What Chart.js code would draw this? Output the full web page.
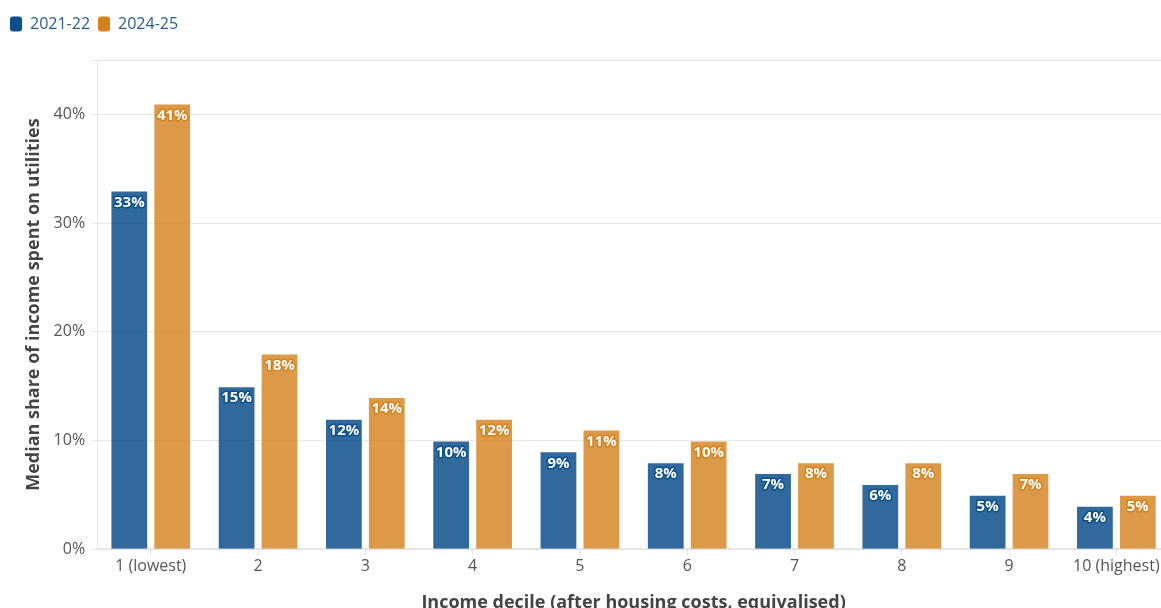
<!DOCTYPE html>
<html>
<head>
<meta charset="utf-8">
<script src="https://cdn.jsdelivr.net/npm/chart.js@4.4.1/dist/chart.umd.min.js"></script>
<style>
  html, body { margin: 0; padding: 0; background: #fff; overflow: hidden; }
  #caja { width: 1170px; height: 614px; position: relative; }
</style>
</head>
<body>
<div id="caja"><canvas id="grafica"></canvas></div>
<script>
// deciles de ingreso y mediana del gasto en suministros (%)
var deciles = ["1 (lowest)", "2", "3", "4", "5", "6", "7", "8", "9", "10 (highest)"];
var serie2122 = [33, 15, 12, 10, 9, 8, 7, 6, 5, 4];
var serie2425 = [41, 18, 14, 12, 11, 10, 8, 8, 7, 5];
var etiquetas = ["2021-22", "2024-25"];

var colorAzul = "#0d4f8b";
var colorNaranja = "#d4821e";

// etiquetas blancas con contorno dentro de cada barra
var etiquetasBarras = {
    id: "etiquetasBarras",
    afterDatasetsDraw: function(chart) {
        var ctx = chart.ctx;
        ctx.save();
        ctx.font = "bold 15px 'Open Sans'";
        ctx.textAlign = "center";
        ctx.textBaseline = "middle";
        ctx.lineJoin = "round";
        chart.data.datasets.forEach(function(ds, i) {
            var meta = chart.getDatasetMeta(i);
            meta.data.forEach(function(bar, j) {
                var texto = ds.data[j] + "%";
                var y = bar.y + 12;
                ctx.lineWidth = 3;
                ctx.strokeStyle = ds.contorno;
                ctx.strokeText(texto, bar.x, y);
                ctx.fillStyle = "#fff";
                ctx.fillText(texto, bar.x, y);
            });
        });
        ctx.restore();
    }
};

// deja más aire debajo de la leyenda
var espacioLeyenda = {
    id: "espacioLeyenda",
    beforeInit: function(chart) {
        var fitOriginal = chart.legend.fit;
        chart.legend.fit = function() {
            fitOriginal.bind(chart.legend)();
            this.height += 18;
        };
    }
};

var ctx = document.getElementById("grafica").getContext("2d");
new Chart(ctx, {
    type: "bar",
    data: {
        labels: deciles,
        datasets: [
            { label: etiquetas[0], data: serie2122, backgroundColor: "rgba(13, 79, 139, 0.85)",
              borderColor: "rgba(255,255,255,0.6)", borderWidth: 1, contorno: colorAzul, solido: colorAzul,
              categoryPercentage: 0.8, barPercentage: 0.88 },
            { label: etiquetas[1], data: serie2425, backgroundColor: "rgba(212, 130, 30, 0.82)",
              borderColor: "rgba(255,255,255,0.6)", borderWidth: 1, contorno: colorNaranja, solido: colorNaranja,
              categoryPercentage: 0.8, barPercentage: 0.88 }
        ]
    },
    options: {
        responsive: true,
        maintainAspectRatio: false,
        animation: false,
        layout: { padding: { left: 2, right: 0, top: 8, bottom: 0 } },
        plugins: {
            tooltip: { enabled: false },
            legend: {
                position: "top",
                align: "start",
                labels: {
                    boxWidth: 12,
                    boxHeight: 15,
                    useBorderRadius: true,
                    borderRadius: 3,
                    color: "#2a5d8f",
                    padding: 8,
                    font: { family: "'Open Sans'", size: 16 },
                    generateLabels: function(chart) {
                        return chart.data.datasets.map(function(ds, i) {
                            return { text: ds.label, fillStyle: ds.solido, strokeStyle: ds.solido,
                                     lineWidth: 0, datasetIndex: i, fontColor: "#2a5d8f", borderRadius: 3 };
                        });
                    }
                }
            }
        },
        scales: {
            x: {
                grid: { display: true, drawOnChartArea: false, offset: false, tickLength: 6, color: "#e3e3e3" },
                border: { color: "#e3e3e3", width: 2 },
                ticks: { color: "#555", font: { family: "'Open Sans'", size: 16 }, padding: 2 },
                title: { display: true, text: "Income decile (after housing costs, equivalised)", color: "#444",
                         font: { family: "'Open Sans'", size: 18, weight: "bold" }, padding: { top: 14, bottom: 0 } }
            },
            y: {
                min: 0,
                max: 45,
                grid: { color: "#e8e8e8", tickLength: 6 },
                border: { color: "#e8e8e8", width: 1 },
                ticks: { stepSize: 10, color: "#555", padding: 6, font: { family: "'Open Sans'", size: 16 },
                         callback: function(v) { return v % 10 === 0 ? v + "%" : ""; } },
                title: { display: true, text: "Median share of income spent on utilities", color: "#444",
                         font: { family: "'Open Sans'", size: 18, weight: "bold" }, padding: { top: 21, bottom: 3 } }
            }
        }
    },
    plugins: [etiquetasBarras, espacioLeyenda]
});
</script>
</body>
</html>
